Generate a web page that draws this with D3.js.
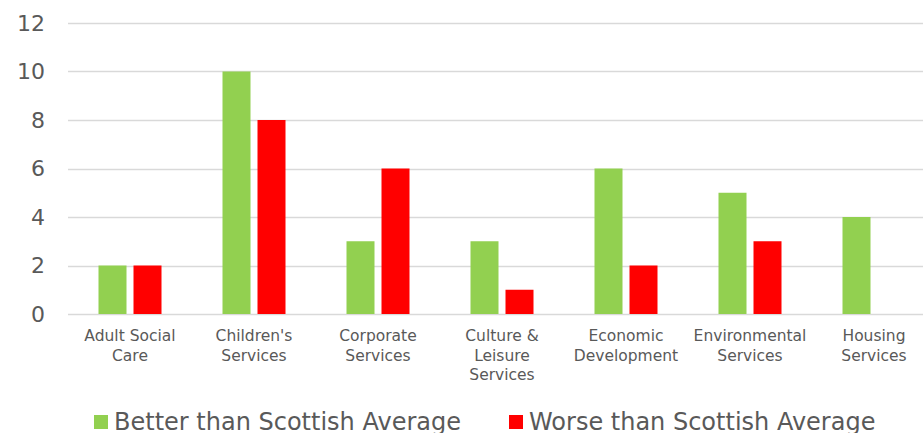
<!DOCTYPE html>
<html lang="en">
<head>
<meta charset="UTF-8">
<title>Scottish Average comparison</title>
<style>
    body { margin: 0; background: #fff; }
    svg text { font-family: "DejaVu Sans", Verdana, sans-serif; fill: #595959; }
</style>
</head>
<body>
<div id="chart"></div>
<script src="https://cdn.jsdelivr.net/npm/d3@7"></script>
<script>
var categories = [["Adult Social", "Care"], ["Children's", "Services"], ["Corporate", "Services"],
    ["Culture &", "Leisure", "Services"], ["Economic", "Development"], ["Environmental", "Services"],
    ["Housing", "Services"]];
var better = [2, 10, 3, 3, 6, 5, 4];
var worse = [2, 8, 6, 1, 2, 3, 0];
var seriesNames = ["Better than Scottish Average", "Worse than Scottish Average"];
var yTicks = [0, 2, 4, 6, 8, 10, 12];

var width = 923, height = 433;
var plotLeft = 68, plotRight = 936, plotTop = 23, plotBottom = 314;
var colors = ["#92d050", "#ff0000"];

var svg = d3.select("#chart").append("svg")
    .attr("width", width).attr("height", height);

var x = d3.scaleBand().domain(d3.range(categories.length)).range([plotLeft, plotRight]);
var y = d3.scaleLinear().domain([0, 12]).range([plotBottom, plotTop]);

// gridlines
svg.selectAll(".grid").data(yTicks).enter().append("line")
    .attr("x1", plotLeft).attr("x2", plotRight)
    .attr("y1", function (d) { return Math.round(y(d)) + 0.5; })
    .attr("y2", function (d) { return Math.round(y(d)) + 0.5; })
    .style("stroke", "#d9d9d9").style("stroke-width", 1.5);

// y labels
svg.selectAll(".ylab").data(yTicks).enter().append("text")
    .attr("x", 45).attr("y", function (d) { return y(d); })
    .attr("dy", "0.36em").attr("text-anchor", "end")
    .style("font-size", "22px")
    .text(function (d) { return d; });

var barW = 28, gap = 7;
var series = [better, worse];
series.forEach(function (vals, s) {
    svg.selectAll(".bar" + s).data(vals).enter().append("rect")
        .attr("x", function (d, i) {
            var c = x(i) + x.bandwidth() / 2;
            return s === 0 ? c - gap / 2 - barW : c + gap / 2;
        })
        .attr("width", barW)
        .attr("y", function (d) { return y(d); })
        .attr("height", function (d) { return y(0) - y(d); })
        .style("fill", colors[s]);
});

// category labels
var cat = svg.selectAll(".cat").data(categories).enter().append("text")
    .attr("text-anchor", "middle")
    .style("font-size", "15.5px");
cat.selectAll("tspan").data(function (d, i) {
    return d.map(function (t) { return {t: t, i: i}; });
}).enter().append("tspan")
    .attr("x", function (d) { return x(d.i) + x.bandwidth() / 2; })
    .attr("y", function (d, j) { return 341 + j * 19.5; })
    .text(function (d) { return d.t; });

// legend
var legX = [94, 509];
seriesNames.forEach(function (name, s) {
    svg.append("rect").attr("x", legX[s]).attr("y", 415).attr("width", 14).attr("height", 14)
        .style("fill", colors[s]);
    svg.append("text").attr("x", legX[s] + 20).attr("y", 430)
        .style("font-size", "24px").text(name);
});
</script>
</body>
</html>
